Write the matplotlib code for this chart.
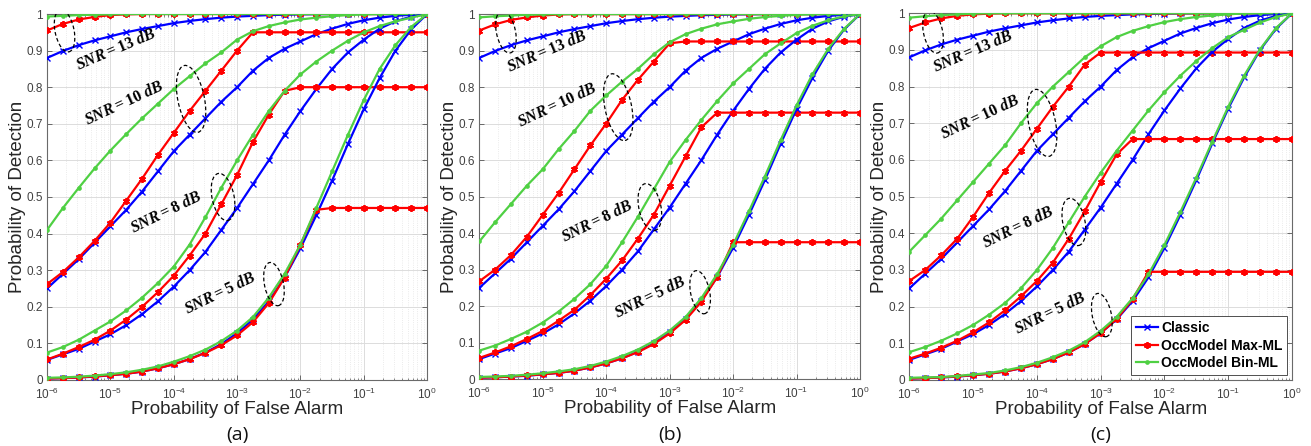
import matplotlib
matplotlib.use('Agg')
from matplotlib import pyplot as plt
from matplotlib.patches import Ellipse
from matplotlib.ticker import NullFormatter, FixedLocator, FixedFormatter

plt.rcParams['font.family'] = ['Liberation Sans', 'DejaVu Sans']
plt.rcParams['mathtext.fontset'] = 'custom'
plt.rcParams['mathtext.rm'] = 'Liberation Serif:bold'
plt.rcParams['mathtext.it'] = 'Liberation Serif:italic:bold'

# x grid: exponent of the false alarm probability (quarter decades)
PFA_EXP = [-6.0, -5.75, -5.5, -5.25, -5.0, -4.75, -4.5, -4.25, -4.0, -3.75, -3.5, -3.25, -3.0,
           -2.75, -2.5, -2.25, -2.0, -1.75, -1.5, -1.25, -1.0, -0.75, -0.5, -0.25, 0.0]

SNR_LABELS = ['13', '10', '8', '5']
SERIES_NAMES = ['Classic', 'OccModel Max-ML', 'OccModel Bin-ML']
PANEL_TAGS = ['(a)', '(b)', '(c)']
X_DECADES = [-6, -5, -4, -3, -2, -1, 0]
Y_TICKS = [0, 0.1, 0.2, 0.3, 0.4, 0.5, 0.6, 0.7, 0.8, 0.9, 1]
Y_TICK_LABELS = ['0', '0.1', '0.2', '0.3', '0.4', '0.5', '0.6', '0.7', '0.8', '0.9', '1']

# classic detector (same in all three panels)
CLASSIC_13 = [0.880, 0.899, 0.915, 0.928, 0.939, 0.950, 0.959, 0.967, 0.975, 0.981, 0.986, 0.990, 0.993,
              0.995, 0.997, 0.998, 0.999, 0.9995, 1.0, 1.0, 1.0, 1.0, 1.0, 1.0, 1.0]
CLASSIC_10 = [0.250, 0.290, 0.330, 0.375, 0.420, 0.465, 0.515, 0.570, 0.625, 0.670, 0.715, 0.760, 0.800,
              0.845, 0.880, 0.905, 0.925, 0.945, 0.960, 0.973, 0.983, 0.990, 0.995, 0.998, 1.0]
CLASSIC_8 = [0.055, 0.070, 0.085, 0.105, 0.125, 0.150, 0.180, 0.215, 0.255, 0.300, 0.350, 0.410, 0.470,
             0.535, 0.600, 0.670, 0.735, 0.795, 0.850, 0.895, 0.930, 0.960, 0.980, 0.993, 1.0]
CLASSIC_5 = [0.004, 0.005, 0.007, 0.009, 0.013, 0.017, 0.023, 0.032, 0.043, 0.057, 0.075, 0.098, 0.128,
             0.165, 0.215, 0.280, 0.360, 0.450, 0.545, 0.645, 0.740, 0.825, 0.900, 0.958, 1.0]

# panel (a)
MAXML_A_13 = [0.955, 0.973, 0.985, 0.992, 0.997, 0.999, 1.0, 1.0, 1.0, 1.0, 1.0, 1.0, 1.0,
              1.0, 1.0, 1.0, 1.0, 1.0, 1.0, 1.0, 1.0, 1.0, 1.0, 1.0, 1.0]
BINML_A_13 = [0.993, 0.995, 0.997, 0.998, 0.999, 1.0, 1.0, 1.0, 1.0, 1.0, 1.0, 1.0, 1.0,
              1.0, 1.0, 1.0, 1.0, 1.0, 1.0, 1.0, 1.0, 1.0, 1.0, 1.0, 1.0]
MAXML_A_10 = [0.262, 0.295, 0.335, 0.380, 0.430, 0.490, 0.550, 0.615, 0.675, 0.735, 0.790, 0.845, 0.900,
              0.950, 0.950, 0.950, 0.950, 0.950, 0.950, 0.950, 0.950, 0.950, 0.950, 0.950, 0.950]
BINML_A_10 = [0.410, 0.470, 0.525, 0.578, 0.627, 0.672, 0.715, 0.755, 0.795, 0.830, 0.865, 0.895, 0.930,
              0.953, 0.967, 0.977, 0.985, 0.990, 0.994, 0.997, 0.999, 1.0, 1.0, 1.0, 1.0]
MAXML_A_8 = [0.056, 0.072, 0.090, 0.110, 0.135, 0.165, 0.200, 0.240, 0.285, 0.340, 0.400, 0.480, 0.560,
             0.650, 0.725, 0.790, 0.800, 0.800, 0.800, 0.800, 0.800, 0.800, 0.800, 0.800, 0.800]
BINML_A_8 = [0.075, 0.090, 0.110, 0.135, 0.160, 0.190, 0.225, 0.265, 0.310, 0.370, 0.445, 0.525, 0.600,
             0.670, 0.735, 0.790, 0.835, 0.870, 0.900, 0.927, 0.950, 0.967, 0.980, 0.990, 1.0]
MAXML_A_5 = [0.004, 0.005, 0.007, 0.010, 0.013, 0.017, 0.023, 0.032, 0.043, 0.057, 0.074, 0.095, 0.122,
             0.158, 0.210, 0.280, 0.370, 0.465, 0.470, 0.470, 0.470, 0.470, 0.470, 0.470, 0.470]
BINML_A_5 = [0.006, 0.007, 0.009, 0.012, 0.016, 0.021, 0.028, 0.037, 0.050, 0.065, 0.083, 0.106, 0.135,
             0.172, 0.225, 0.290, 0.370, 0.470, 0.570, 0.670, 0.765, 0.850, 0.915, 0.965, 1.0]

# panel (b)
MAXML_B_13 = [0.955, 0.972, 0.984, 0.991, 0.996, 0.999, 1.0, 1.0, 1.0, 1.0, 1.0, 1.0, 1.0,
              1.0, 1.0, 1.0, 1.0, 1.0, 1.0, 1.0, 1.0, 1.0, 1.0, 1.0, 1.0]
BINML_B_13 = [0.991, 0.994, 0.996, 0.998, 0.999, 1.0, 1.0, 1.0, 1.0, 1.0, 1.0, 1.0, 1.0,
              1.0, 1.0, 1.0, 1.0, 1.0, 1.0, 1.0, 1.0, 1.0, 1.0, 1.0, 1.0]
MAXML_B_10 = [0.268, 0.300, 0.340, 0.390, 0.450, 0.510, 0.575, 0.640, 0.700, 0.765, 0.820, 0.870, 0.920,
              0.925, 0.925, 0.925, 0.925, 0.925, 0.925, 0.925, 0.925, 0.925, 0.925, 0.925, 0.925]
BINML_B_10 = [0.377, 0.430, 0.480, 0.530, 0.575, 0.630, 0.680, 0.735, 0.777, 0.815, 0.850, 0.890, 0.923,
              0.945, 0.960, 0.972, 0.980, 0.987, 0.992, 0.995, 0.998, 1.0, 1.0, 1.0, 1.0]
MAXML_B_8 = [0.058, 0.073, 0.090, 0.110, 0.132, 0.160, 0.190, 0.230, 0.275, 0.325, 0.385, 0.450, 0.530,
             0.610, 0.690, 0.730, 0.730, 0.730, 0.730, 0.730, 0.730, 0.730, 0.730, 0.730, 0.730]
BINML_B_8 = [0.078, 0.092, 0.110, 0.130, 0.155, 0.185, 0.220, 0.260, 0.310, 0.375, 0.445, 0.520, 0.595,
             0.655, 0.710, 0.762, 0.810, 0.850, 0.890, 0.920, 0.948, 0.968, 0.983, 0.994, 1.0]
MAXML_B_5 = [0.004, 0.005, 0.007, 0.010, 0.013, 0.017, 0.023, 0.032, 0.043, 0.057, 0.074, 0.096, 0.125,
             0.162, 0.212, 0.280, 0.375, 0.375, 0.375, 0.375, 0.375, 0.375, 0.375, 0.375, 0.375]
BINML_B_5 = [0.006, 0.007, 0.009, 0.012, 0.016, 0.021, 0.027, 0.036, 0.048, 0.063, 0.081, 0.104, 0.133,
             0.170, 0.222, 0.288, 0.368, 0.460, 0.555, 0.655, 0.750, 0.835, 0.905, 0.960, 1.0]

# panel (c)
MAXML_C_13 = [0.960, 0.975, 0.986, 0.993, 0.997, 0.999, 1.0, 1.0, 1.0, 1.0, 1.0, 1.0, 1.0,
              1.0, 1.0, 1.0, 1.0, 1.0, 1.0, 1.0, 1.0, 1.0, 1.0, 1.0, 1.0]
BINML_C_13 = [0.988, 0.992, 0.995, 0.997, 0.999, 1.0, 1.0, 1.0, 1.0, 1.0, 1.0, 1.0, 1.0,
              1.0, 1.0, 1.0, 1.0, 1.0, 1.0, 1.0, 1.0, 1.0, 1.0, 1.0, 1.0]
MAXML_C_10 = [0.270, 0.300, 0.340, 0.385, 0.445, 0.510, 0.570, 0.625, 0.685, 0.745, 0.800, 0.860, 0.893,
              0.893, 0.893, 0.893, 0.893, 0.893, 0.893, 0.893, 0.893, 0.893, 0.893, 0.893, 0.893]
BINML_C_10 = [0.350, 0.395, 0.440, 0.490, 0.540, 0.590, 0.640, 0.700, 0.755, 0.800, 0.840, 0.880, 0.910,
              0.935, 0.952, 0.965, 0.976, 0.984, 0.990, 0.994, 0.997, 1.0, 1.0, 1.0, 1.0]
MAXML_C_8 = [0.058, 0.072, 0.088, 0.107, 0.130, 0.157, 0.190, 0.228, 0.270, 0.320, 0.385, 0.460, 0.540,
             0.615, 0.657, 0.657, 0.657, 0.657, 0.657, 0.657, 0.657, 0.657, 0.657, 0.657, 0.657]
BINML_C_8 = [0.076, 0.090, 0.107, 0.127, 0.150, 0.178, 0.210, 0.250, 0.300, 0.360, 0.430, 0.500, 0.565,
             0.625, 0.680, 0.735, 0.785, 0.830, 0.870, 0.905, 0.935, 0.955, 0.975, 0.990, 1.0]
MAXML_C_5 = [0.004, 0.005, 0.007, 0.010, 0.013, 0.017, 0.023, 0.032, 0.043, 0.057, 0.075, 0.098, 0.128,
             0.166, 0.220, 0.295, 0.295, 0.295, 0.295, 0.295, 0.295, 0.295, 0.295, 0.295, 0.295]
BINML_C_5 = [0.006, 0.007, 0.008, 0.011, 0.015, 0.019, 0.026, 0.035, 0.047, 0.062, 0.080, 0.103, 0.134,
             0.172, 0.223, 0.288, 0.368, 0.458, 0.552, 0.650, 0.745, 0.830, 0.902, 0.960, 1.0]

CLASSIC = [CLASSIC_13, CLASSIC_10, CLASSIC_8, CLASSIC_5]
MAXML = [[MAXML_A_13, MAXML_A_10, MAXML_A_8, MAXML_A_5],
         [MAXML_B_13, MAXML_B_10, MAXML_B_8, MAXML_B_5],
         [MAXML_C_13, MAXML_C_10, MAXML_C_8, MAXML_C_5]]
BINML = [[BINML_A_13, BINML_A_10, BINML_A_8, BINML_A_5],
         [BINML_B_13, BINML_B_10, BINML_B_8, BINML_B_5],
         [BINML_C_13, BINML_C_10, BINML_C_8, BINML_C_5]]

# layout (figure fractions) and annotation places (axes fractions)
AX_RECTS = [[0.0359, 0.148, 0.2899, 0.8206],
            [0.3656, 0.150, 0.2904, 0.8184],
            [0.6936, 0.148, 0.2919, 0.8222]]
TEXT_POS = [[(0.179, 0.905), (0.203, 0.758), (0.313, 0.459), (0.455, 0.238)],
            [(0.178, 0.900), (0.204, 0.753), (0.309, 0.433), (0.448, 0.227)],
            [(0.166, 0.897), (0.185, 0.717), (0.284, 0.417), (0.368, 0.183)]]
ELL_POS = [[(0.046, 0.954), (0.379, 0.768), (0.463, 0.500), (0.597, 0.262)],
           [(0.070, 0.951), (0.365, 0.745), (0.448, 0.471), (0.580, 0.238)],
           [(0.062, 0.949), (0.347, 0.701), (0.430, 0.431), (0.503, 0.177)]]
ELL_SIZE = [(0.050, 0.117), (0.070, 0.186), (0.058, 0.131), (0.050, 0.120)]
TEXT_ROT = [23, 25, 26, 26]

BLUE = '#0000ff'
RED = '#ff0000'
GREEN = '#4fd043'


def style_axes(ax):
    ax.set_xscale('log')
    ax.set_xlim(1e-6, 1)
    ax.set_ylim(0, 1)
    # fixed ticks so no hidden labels sit outside the axes
    major = [10.0 ** d for d in X_DECADES]
    minor = [m * 10.0 ** d for d in X_DECADES[:-1] for m in range(2, 10)]
    ax.xaxis.set_major_locator(FixedLocator(major))
    ax.xaxis.set_major_formatter(FixedFormatter([r'$\mathdefault{10^{%d}}$' % d for d in X_DECADES]))
    ax.xaxis.set_minor_locator(FixedLocator(minor))
    ax.xaxis.set_minor_formatter(NullFormatter())
    ax.yaxis.set_major_locator(FixedLocator(Y_TICKS))
    ax.yaxis.set_major_formatter(FixedFormatter(Y_TICK_LABELS))
    ax.grid(True, which='major', color='#dcdcdc', lw=0.7)
    ax.grid(True, which='minor', axis='x', color='#e4e4e4', lw=0.6, ls=':')
    ax.set_axisbelow(True)
    ax.tick_params(which='both', direction='in', top=True, right=True,
                   colors='#555555', labelcolor='#404040', labelsize=8.5)
    ax.tick_params(which='major', length=3.5, width=0.6, pad=3)
    ax.tick_params(which='minor', length=1.8, width=0.5)
    ax.tick_params(axis='x', which='major', pad=5)
    for sp in ax.spines.values():
        sp.set_color('#6a6a6a')
        sp.set_linewidth(0.8)
    ax.set_xlabel('Probability of False Alarm', fontsize=13.5, color='#262626')
    ax.set_ylabel('Probability of Detection', fontsize=13.5, color='#262626')
    ax.xaxis.set_label_coords(0.5, -0.058)
    ax.yaxis.set_label_coords(-0.056, 0.5)


def main():
    fig = plt.figure(figsize=(13.11, 4.46), dpi=100)
    pfa = [10 ** e for e in PFA_EXP]

    for p in range(3):
        ax = fig.add_axes(AX_RECTS[p])
        style_axes(ax)
        for k in range(4):
            ax.plot(pfa, CLASSIC[k], color=BLUE, lw=1.6, marker='x', ms=3.8, mew=1.0,
                    label=SERIES_NAMES[0] if k == 0 else None, zorder=3)
            ax.plot(pfa, MAXML[p][k], color=RED, lw=1.6, marker=(6, 2, 0), ms=5, mew=1.3,
                    label=SERIES_NAMES[1] if k == 0 else None, zorder=3)
            ax.plot(pfa, BINML[p][k], color=GREEN, lw=1.6, marker='o', ms=3.4, mew=0,
                    label=SERIES_NAMES[2] if k == 0 else None, zorder=3)

            tx, ty = TEXT_POS[p][k]
            ax.text(tx, ty, r'$SNR = %s\ dB$' % SNR_LABELS[k], transform=ax.transAxes,
                    rotation=TEXT_ROT[k], ha='center', va='center', fontsize=11.5, zorder=5)
            ex, ey = ELL_POS[p][k]
            ew, eh = ELL_SIZE[k]
            ax.add_patch(Ellipse((ex, ey), ew, eh, angle=11, transform=ax.transAxes,
                                 fill=False, ls=(0, (3, 2)), lw=0.9, color='black', zorder=6))

        if p == 2:
            leg = ax.legend(loc='lower right', prop={'weight': 'bold', 'size': 10},
                            handlelength=1.6, handletextpad=0.2, borderaxespad=0.35,
                            labelspacing=0.25, borderpad=0.35, fancybox=False, framealpha=1)
            leg.get_frame().set_edgecolor('#333333')
            leg.get_frame().set_linewidth(0.6)

        fig.text(AX_RECTS[p][0] + AX_RECTS[p][2] / 2, 0.025, PANEL_TAGS[p], ha='center', va='center',
                 fontsize=14, family=['Open Sans', 'DejaVu Sans'], color='#111111')

    fig.savefig('out.png', dpi=100)


if __name__ == "__main__":
    main()
